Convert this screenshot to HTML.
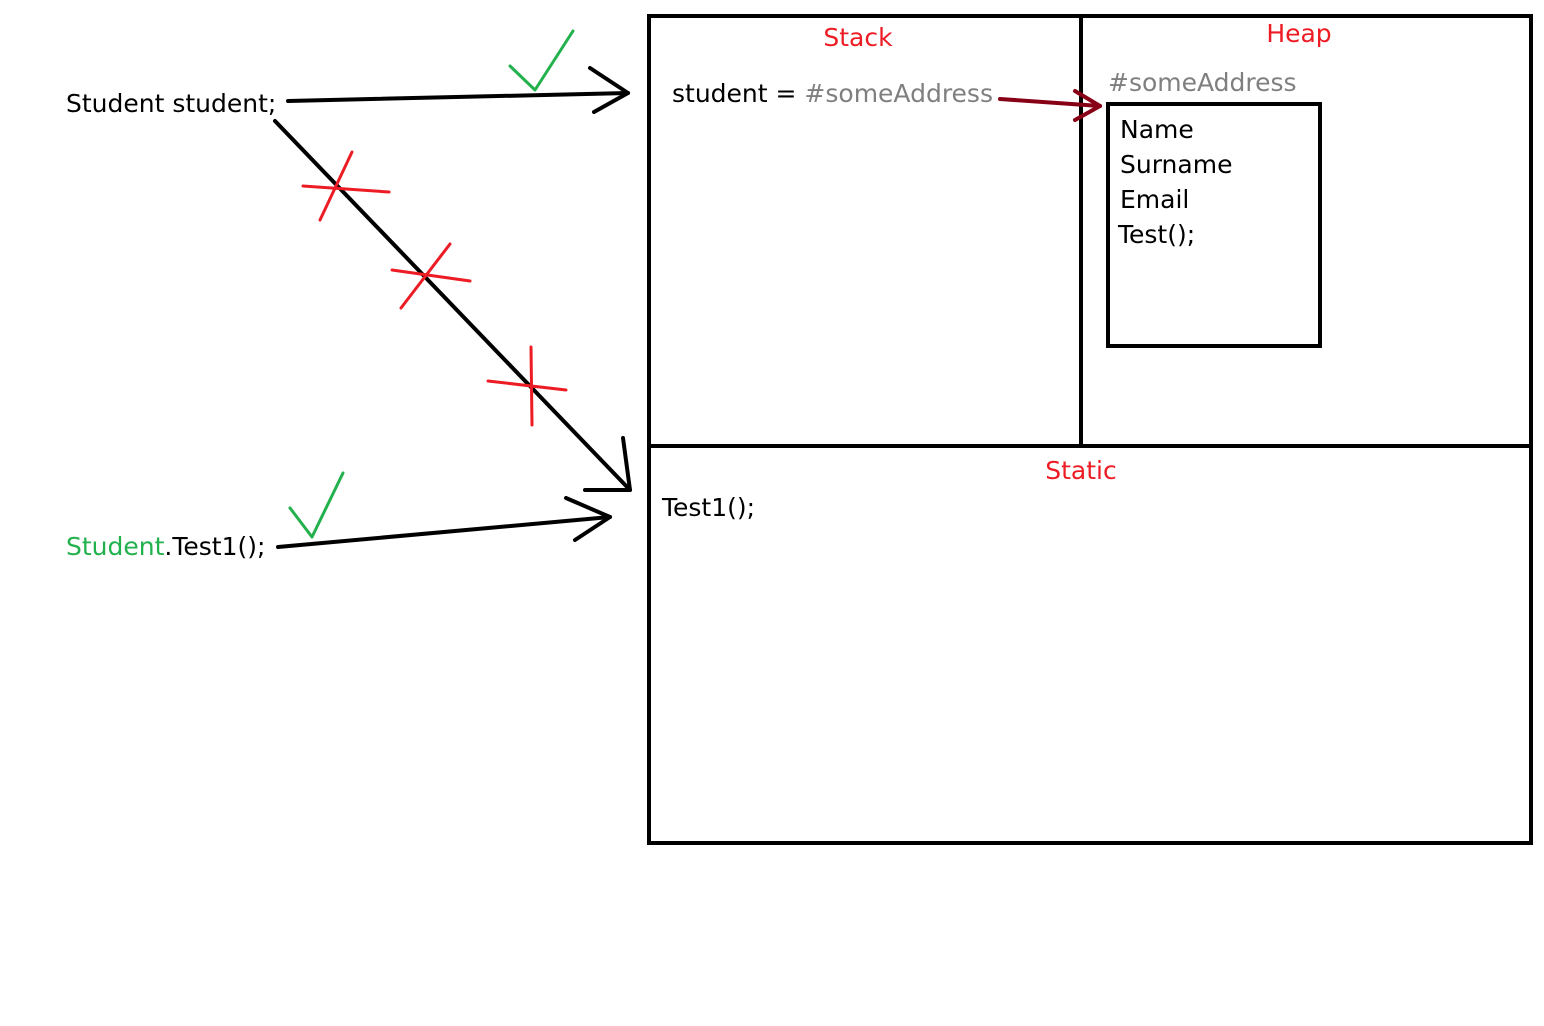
<!DOCTYPE html>
<html><head><meta charset="utf-8"><style>
html,body{margin:0;padding:0;background:#fff;}
svg{display:block;}
text{font-family:"DejaVu Sans","Liberation Sans",sans-serif;font-size:25px;}
</style></head><body>
<svg width="1544" height="1026" viewBox="0 0 1544 1026" xmlns="http://www.w3.org/2000/svg">
<rect x="0" y="0" width="1544" height="1026" fill="#fff"/>
<g fill="none" stroke="#000" stroke-width="4">
<rect x="649" y="16" width="882" height="827"/>
<line x1="1081" y1="16" x2="1081" y2="446"/>
<line x1="649" y1="446" x2="1531" y2="446"/>
<rect x="1108" y="104" width="212" height="242"/>
</g>
<g stroke="#000" stroke-width="4" fill="none" stroke-linecap="round" stroke-linejoin="round">
<polyline points="288,101 628,93"/>
<polyline points="590,68 628,93 594,112"/>
<polyline points="275,121 630,490"/>
<polyline points="623,438 630,490 585,490"/>
<polyline points="278,547 610,517"/>
<polyline points="566,498 610,517 575,540"/>
</g>
<g stroke="#880015" stroke-width="4" fill="none" stroke-linecap="round" stroke-linejoin="round">
<polyline points="1000,99 1100,106"/>
<polyline points="1075,91 1100,106 1075,120"/>
</g>
<g stroke="#22b14c" stroke-width="3" fill="none" stroke-linecap="round" stroke-linejoin="round">
<polyline points="510,66 535,90 573,31"/>
<polyline points="290,508 312,537 343,473"/>
</g>
<g stroke="#ed1c24" stroke-width="3" fill="none" stroke-linecap="round">
<line x1="303" y1="186" x2="389" y2="192"/><line x1="352" y1="152" x2="320" y2="220"/>
<line x1="392" y1="270" x2="470" y2="281"/><line x1="450" y1="244" x2="401" y2="308"/>
<line x1="488" y1="381" x2="566" y2="390"/><line x1="531" y1="347" x2="532" y2="425"/>
</g>
<g fill="#ed1c24">
<text x="858" y="46" text-anchor="middle">Stack</text>
<text x="1299" y="42" text-anchor="middle">Heap</text>
<text x="1081" y="479" text-anchor="middle">Static</text>
</g>
<text x="672" y="102" fill="#000">student = <tspan fill="#7f7f7f">#someAddress</tspan></text>
<text x="1108" y="91" fill="#7f7f7f">#someAddress</text>
<g fill="#000">
<text x="1120" y="138">Name</text>
<text x="1120" y="173">Surname</text>
<text x="1120" y="208">Email</text>
<text x="1118" y="243">Test();</text>
<text x="66" y="112">Student student;</text>
<text x="662" y="516">Test1();</text>
<text x="66" y="555"><tspan fill="#22b14c">Student</tspan>.Test1();</text>
</g>
</svg>
</body></html>
